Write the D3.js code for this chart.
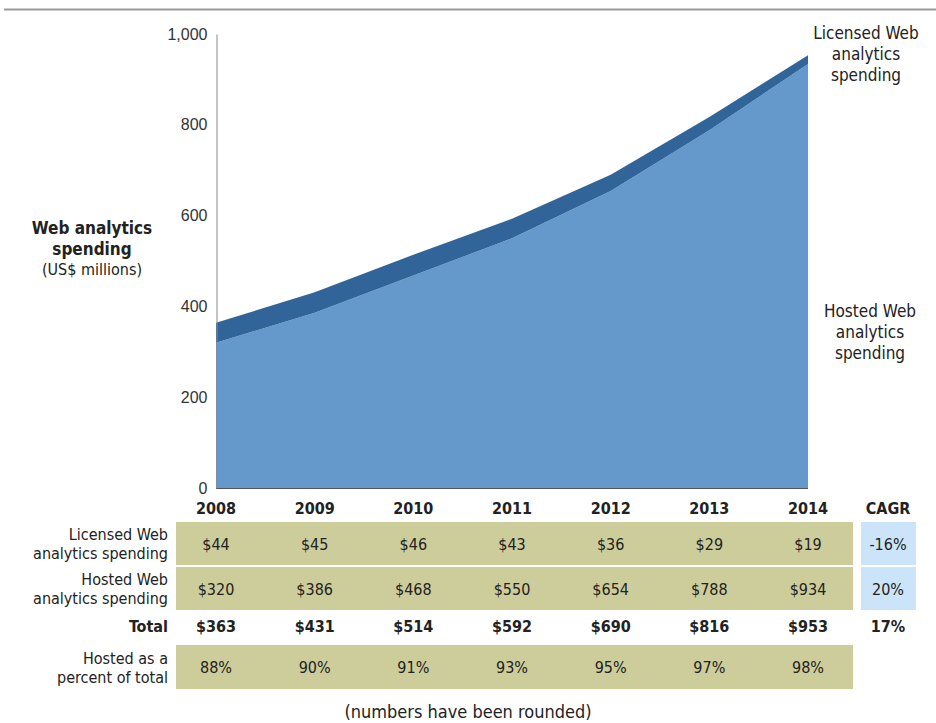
<!DOCTYPE html>
<html>
<head>
  <meta charset="utf-8">
  <title>Web analytics spending</title>
  <script src="https://d3js.org/d3.v7.min.js"></script>
</head>
<style>
  body {
    margin: 0;
    background: #fff;
    font-family: "Liberation Sans Narrow", "DejaVu Sans Condensed", sans-serif;
  }
  text { fill: #222; }
  .axis .domain { stroke: #8a8a8a; }
  .axis text { font-size: 16px; fill: #333; }
</style>
<body>
  <svg id="chart"></svg>
  <script>
    // chart data
    const years = ["2008", "2009", "2010", "2011", "2012", "2013", "2014"];
    const licensed = [44, 45, 46, 43, 36, 29, 19];
    const hosted = [320, 386, 468, 550, 654, 788, 934];
    const totals = [363, 431, 514, 592, 690, 816, 953];
    const hostedPct = [88, 90, 91, 93, 95, 97, 98];
    const cagr = ["-16%", "20%", "17%"];
    const yTicks = [0, 200, 400, 600, 800, 1000];

    const width = 936, height = 723;
    const svg = d3.select("#chart")
      .attr("width", width)
      .attr("height", height);

    // top rule
    svg.append("line")
      .attr("x1", 4).attr("x2", width)
      .attr("y1", 9.5).attr("y2", 9.5)
      .attr("stroke", "#9a9a9a")
      .attr("stroke-width", 2);

    const x = d3.scalePoint().domain(years).range([216, 808]);
    const y = d3.scaleLinear().domain([0, 1000]).range([488, 34]);

    const data = years.map((yr, i) => ({ year: yr, hosted: hosted[i], licensed: licensed[i] }));
    const stack = d3.stack().keys(["hosted", "licensed"])(data);
    const colors = { hosted: "#6699cb", licensed: "#31659a" };

    const area = d3.area()
      .x(d => x(d.data.year))
      .y0(d => y(d[0]))
      .y1(d => y(d[1]));

    svg.selectAll(".layer")
      .data(stack)
      .enter().append("path")
      .attr("class", "layer")
      .attr("fill", d => colors[d.key])
      .attr("d", area);

    // baseline
    svg.append("line")
      .attr("x1", 216).attr("x2", 808)
      .attr("y1", y(0) + 0.5).attr("y2", y(0) + 0.5)
      .attr("stroke", "#555");

    // y axis
    svg.append("g")
      .attr("class", "axis")
      .attr("transform", "translate(216.5,0)")
      .call(d3.axisLeft(y).tickValues(yTicks).tickFormat(d3.format(",")).tickSize(0).tickPadding(9))
      .call(g => g.selectAll("text").attr("font-family", null));

    // y axis title
    const title = svg.append("text").attr("text-anchor", "middle").attr("font-size", 17);
    title.append("tspan").attr("x", 92).attr("y", 234).attr("font-weight", "bold").text("Web analytics");
    title.append("tspan").attr("x", 92).attr("y", 255).attr("font-weight", "bold").text("spending");
    title.append("tspan").attr("x", 92).attr("y", 275).attr("font-size", 16).text("(US$ millions)");

    // series labels on the right
    function multiLabel(lines, cx, y0) {
      const t = svg.append("text").attr("text-anchor", "middle").attr("font-size", 17).attr("fill", "#333");
      lines.forEach((l, i) => t.append("tspan").attr("x", cx).attr("y", y0 + i * 21).text(l));
    }
    multiLabel(["Licensed Web", "analytics", "spending"], 866, 39);
    multiLabel(["Hosted Web", "analytics", "spending"], 870, 317);

    // table
    const rowBg = "#cdcd9b";
    const cagrBg = "#cce4f9";
    const tx0 = 176, tx1 = 853;

    // year header
    svg.selectAll(".yr")
      .data(years)
      .enter().append("text")
      .attr("x", d => x(d))
      .attr("y", 514)
      .attr("text-anchor", "middle")
      .attr("font-size", 16)
      .attr("font-weight", "bold")
      .text(d => d);
    svg.append("text").attr("x", 888).attr("y", 514).attr("text-anchor", "middle")
      .attr("font-size", 16).attr("font-weight", "bold").text("CAGR");

    const rows = [
      { label: ["Licensed Web", "analytics spending"], vals: licensed.map(v => "$" + v), top: 522, h: 43, bg: true, cagr: cagr[0] },
      { label: ["Hosted Web", "analytics spending"], vals: hosted.map(v => "$" + v), top: 567, h: 43, bg: true, cagr: cagr[1] },
      { label: ["Total"], vals: totals.map(v => "$" + v), top: 611, h: 30, bg: false, bold: true, cagr: cagr[2] },
      { label: ["Hosted as a", "percent of total"], vals: hostedPct.map(v => v + "%"), top: 645, h: 44, bg: true }
    ];

    rows.forEach(r => {
      const cy = r.top + r.h / 2;
      if (r.bg) {
        svg.append("rect").attr("x", tx0).attr("y", r.top).attr("width", tx1 - tx0).attr("height", r.h).attr("fill", rowBg);
      }
      if (r.cagr && r.bg) {
        svg.append("rect").attr("x", 861).attr("y", r.top).attr("width", 55).attr("height", r.h).attr("fill", cagrBg);
      }
      const lt = svg.append("text").attr("text-anchor", "end").attr("font-size", 16)
        .attr("font-weight", r.bold ? "bold" : null);
      const n = r.label.length;
      r.label.forEach((l, i) => lt.append("tspan").attr("x", 168)
        .attr("y", cy + 6 + (i - (n - 1) / 2) * 19).text(l));
      svg.selectAll(null)
        .data(r.vals)
        .enter().append("text")
        .attr("x", (d, i) => x(years[i]))
        .attr("y", cy + 6)
        .attr("text-anchor", "middle")
        .attr("font-size", 16)
        .attr("font-weight", r.bold ? "bold" : null)
        .text(d => d);
      if (r.cagr) {
        svg.append("text").attr("x", 888).attr("y", cy + 6).attr("text-anchor", "middle")
          .attr("font-size", 16).attr("font-weight", r.bold ? "bold" : null).text(r.cagr);
      }
    });

    svg.append("text").attr("x", 468).attr("y", 718).attr("text-anchor", "middle")
      .attr("font-size", 18).text("(numbers have been rounded)");
  </script>
</body>
</html>
